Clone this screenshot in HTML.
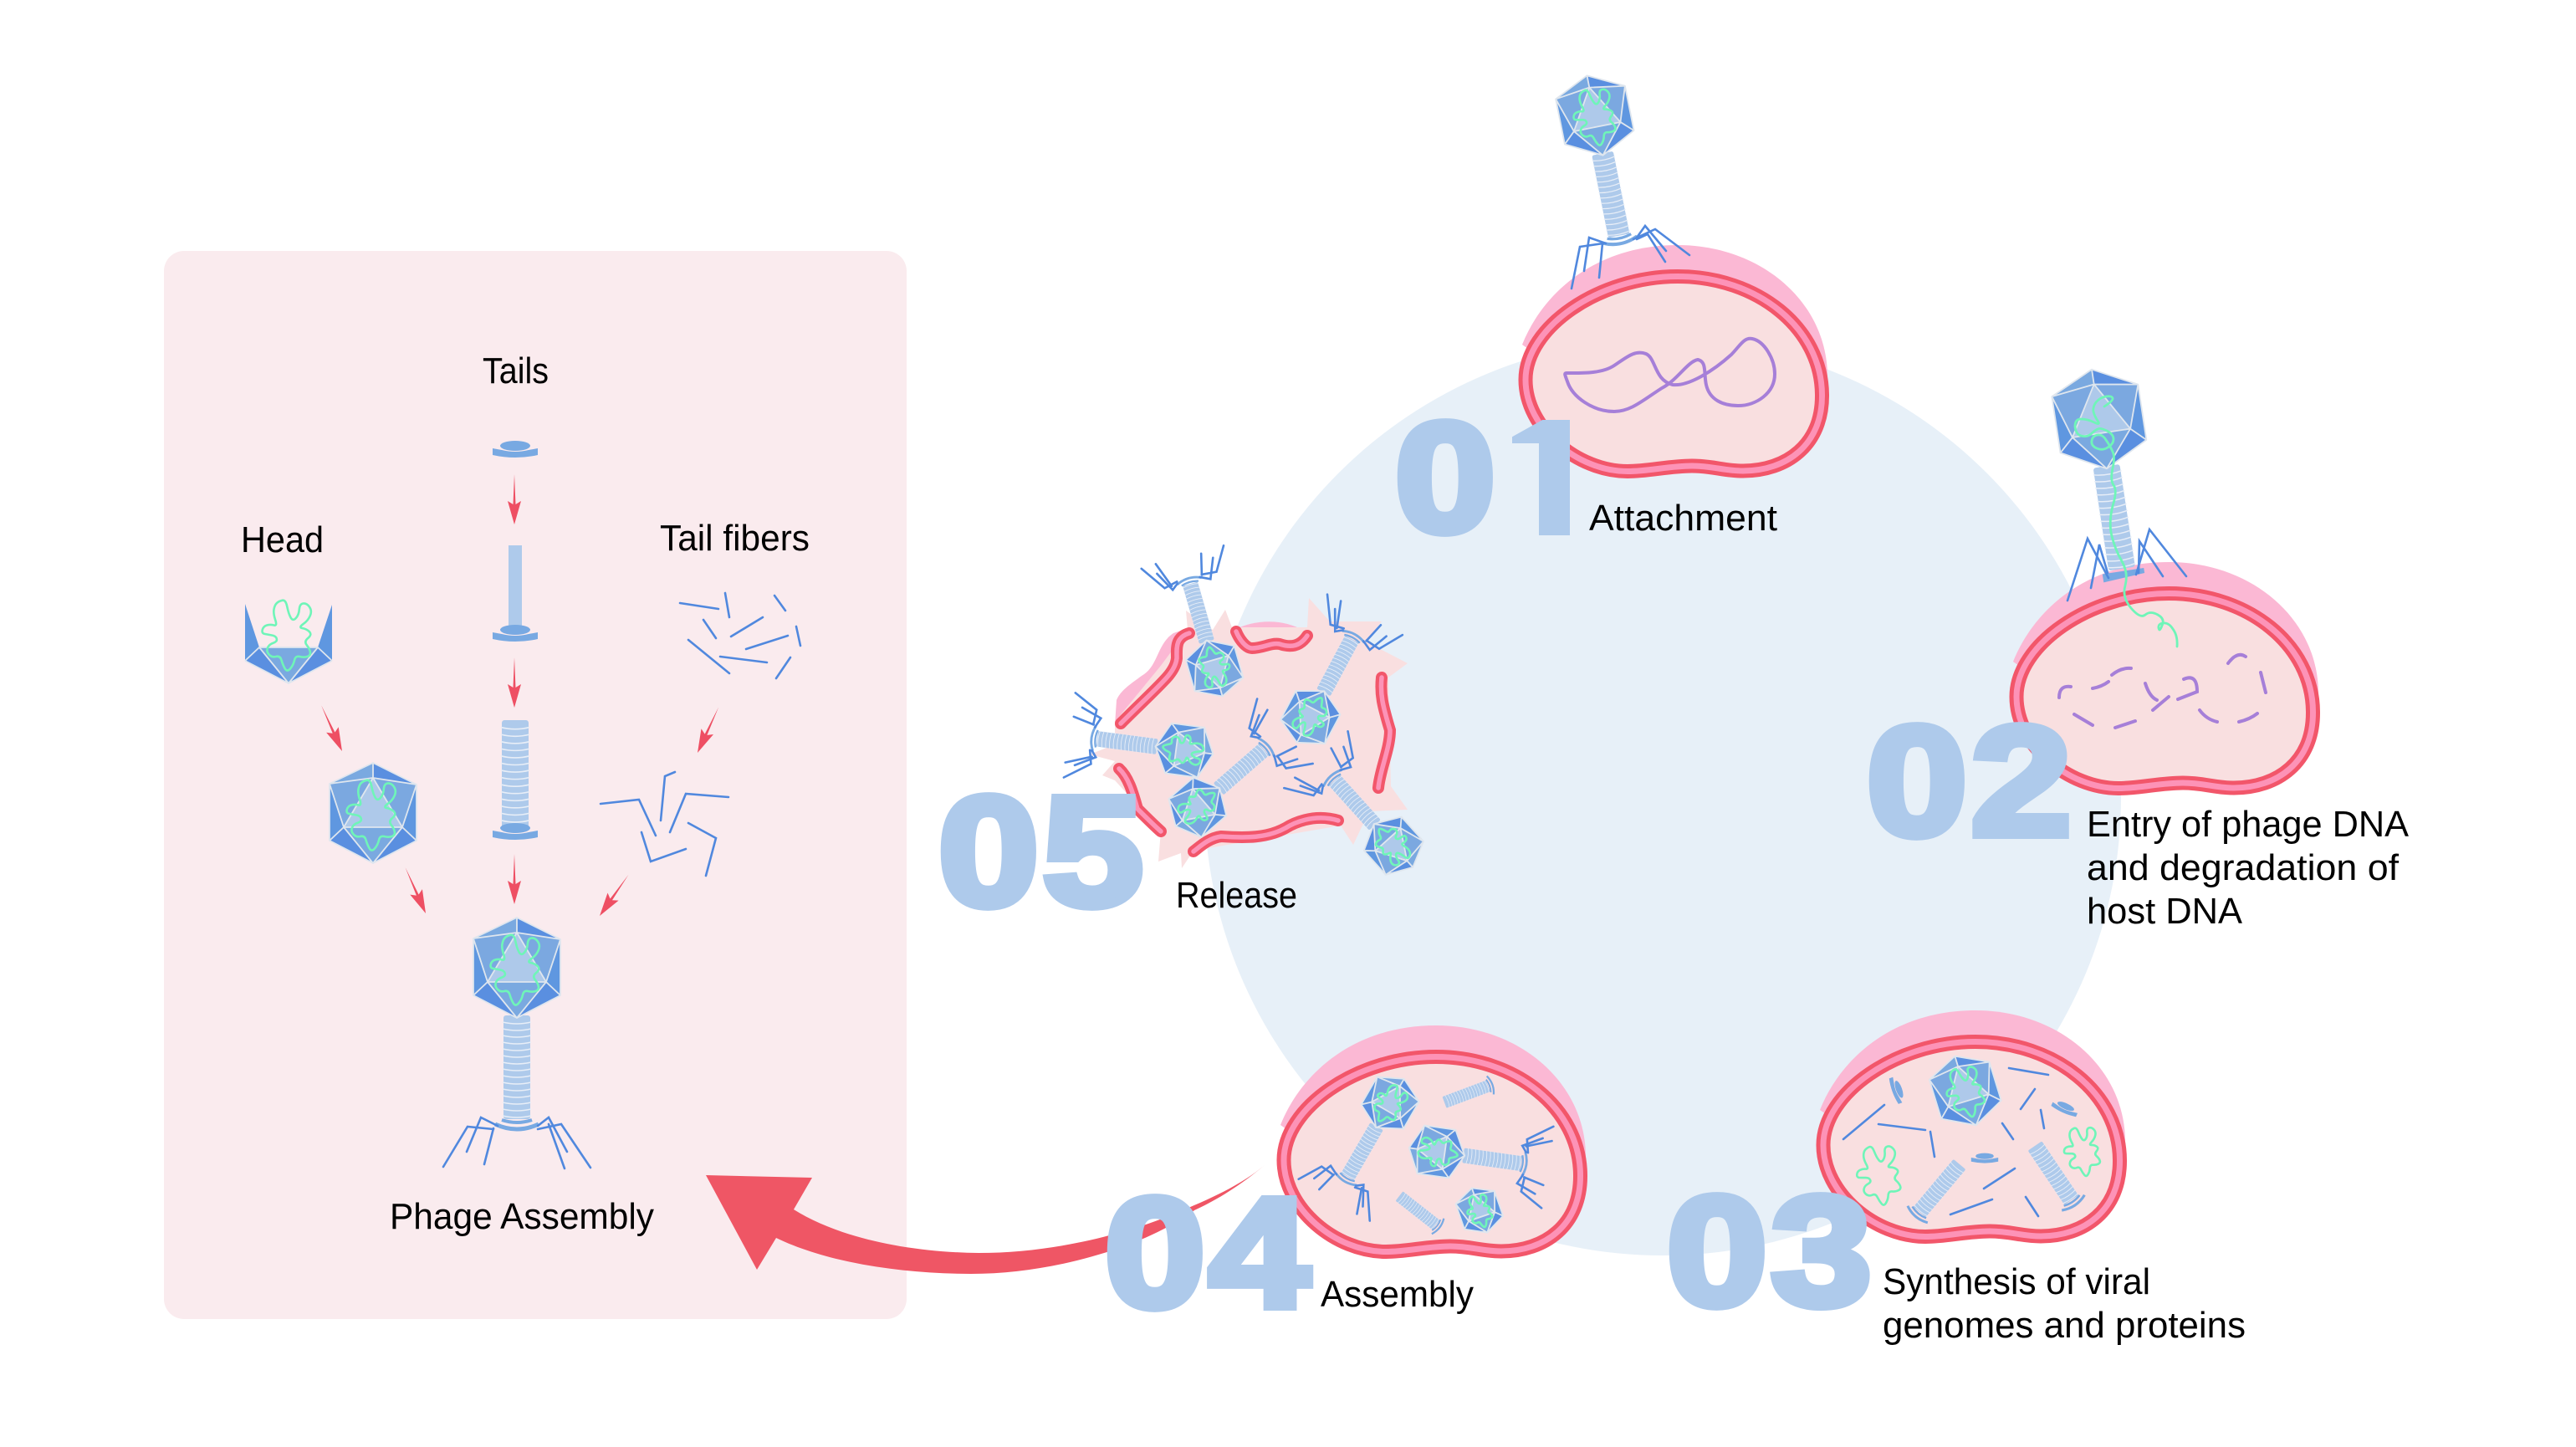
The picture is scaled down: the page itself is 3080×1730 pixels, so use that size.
<!DOCTYPE html>
<html lang="en">
<head>
<meta charset="utf-8">
<title>Phage lifecycle</title>
<style>
html,body{margin:0;padding:0;background:#fff;width:3080px;height:1730px;overflow:hidden}
svg{display:block}
.t{font-family:"Liberation Sans",sans-serif;font-size:44px;fill:#000}
.n{font-family:"Liberation Sans",sans-serif;font-weight:700;font-size:186px;fill:#aecaeb;stroke:#aecaeb;stroke-width:10px;letter-spacing:4px}
.f{fill:none;stroke:#5088de;stroke-width:2.6;stroke-linecap:round;stroke-linejoin:miter;vector-effect:non-scaling-stroke}
.d{fill:none;stroke:#6ff5b8;stroke-width:2.6;vector-effect:non-scaling-stroke}
.h{fill:none;stroke:#dfe6ee;stroke-width:1.8;stroke-linejoin:round;vector-effect:non-scaling-stroke}
</style>
</head>
<body>
<svg xmlns="http://www.w3.org/2000/svg" width="3080" height="1730" viewBox="0 0 3080 1730">
<defs>
  <clipPath id="one"><path d="M1808,480 H1877 V645 H1840 V530 H1808Z"/></clipPath>
  <g id="cell">
    <path d="M4,90 C30,25 95,-29 190,-29 C290,-29 370,40 369,130 L300,130 L60,130Z" fill="#fbb8d4"/>
    <path d="M8,132 C8,70 95,8.5 190,8.5 C285,8.5 362,70 362.5,150 C363,210 320,241 268,241 C245,241 232,235 207,235 C180,235 155,241.5 130,241.5 C70,241.5 8,190 8,132Z" fill="#f9dfe0" stroke="#f2566a" stroke-width="17"/>
    <path d="M8,132 C8,70 95,8.5 190,8.5 C285,8.5 362,70 362.5,150 C363,210 320,241 268,241 C245,241 232,235 207,235 C180,235 155,241.5 130,241.5 C70,241.5 8,190 8,132Z" fill="none" stroke="#fd93b7" stroke-width="7"/>
  </g>
  <g id="head">
    <polygon points="0,-60 -52,-35 0,-42" fill="#7aa9e0"/>
    <polygon points="0,-60 52,-34 0,-42" fill="#5a8fe0"/>
    <polygon points="-52,-35 0,-42 -35,17" fill="#7ba8e0"/>
    <polygon points="52,-34 0,-42 35,17" fill="#7ba8e0"/>
    <polygon points="0,-42 -35,17 35,17" fill="#aec9ea"/>
    <polygon points="-52,-35 -35,17 -52,33" fill="#5f97e0"/>
    <polygon points="52,-34 35,17 52,33" fill="#5f97e0"/>
    <polygon points="-52,33 -35,17 0,60" fill="#5a8fe0"/>
    <polygon points="52,33 35,17 0,60" fill="#5a8fe0"/>
    <polygon points="-35,17 35,17 0,60" fill="#7aa9e0"/>
    <path class="h" d="M0,-60 L52,-34 L52,33 L0,60 L-52,33 L-52,-35Z M0,-60 L0,-42 M-52,-35 L0,-42 L52,-34 M-52,-35 L-35,17 L-52,33 M52,-34 L35,17 L52,33 M0,-42 L-35,17 L35,17Z M-35,17 L0,60 L35,17"/>
  </g>
  <path id="dna" class="d" d="M-14.2,-35.8 Q-11.7,-38.3 -7.5,-39.2 Q-3.3,-40 -1.7,-31.7 Q0,-23.3 2.5,-18.7 Q5,-14 8.7,-17.9 Q12.3,-21.7 12.8,-28.4 Q13.3,-35 17.5,-35.5 Q21.7,-36 25,-31.4 Q28.3,-26.7 25.8,-20.9 Q23.3,-15 17.5,-10.9 Q11.7,-6.7 16.7,-5.9 Q21.7,-5 25,-1.7 Q28.3,1.7 23.3,5.9 Q18.3,10 21.7,14.2 Q25,18.3 25.9,22.5 Q26.7,26.7 22.5,28 Q18.3,29.3 13.3,28 Q8.3,26.7 7,32.5 Q5.7,38.3 2,42.5 Q-1.7,46.7 -4.2,42.5 Q-6.7,38.3 -8.4,32.5 Q-10,26.7 -15,28 Q-20,29.3 -23.4,25.5 Q-26.7,21.7 -25,17.5 Q-23.3,13.3 -18.3,11.7 Q-13.3,10 -14.2,6.7 Q-15,3.3 -20,2.5 Q-25,1.7 -28.7,0.9 Q-32.3,0 -31.2,-4.2 Q-30,-8.3 -25.9,-9.5 Q-21.7,-10.7 -17.5,-9.5 Q-13.3,-8.3 -15.8,-15.8 Q-18.3,-23.3 -17.5,-28.3 Q-16.7,-33.3 -14.2,-35.8Z"/>
  <g id="tail">
    <rect x="-16" y="0" width="32" height="124" rx="3" fill="#aecaeb"/>
    <path fill="none" stroke="#e8eef7" stroke-width="1.5" d="M-17,8 q17,4 34,0 M-17,16 q17,4 34,0 M-17,24 q17,4 34,0 M-17,32 q17,4 34,0 M-17,40 q17,4 34,0 M-17,48 q17,4 34,0 M-17,56 q17,4 34,0 M-17,64 q17,4 34,0 M-17,72 q17,4 34,0 M-17,80 q17,4 34,0 M-17,88 q17,4 34,0 M-17,96 q17,4 34,0 M-17,104 q17,4 34,0 M-17,112 q17,4 34,0 M-17,120 q17,4 34,0"/>
  </g>
  <g id="tailplate">
    <use href="#tail"/>
    <path d="M-18,125 Q0,131 18,125" fill="none" stroke="#78a9e2" stroke-width="4"/>
    <path d="M-26,130 Q0,142 26,130" fill="none" stroke="#78a9e2" stroke-width="5"/>
  </g>
  <g id="legs">
    <polyline class="f" points="-23,132 -43,122 -60,163"/>
    <polyline class="f" points="-28,136 -59,133 -88,181"/>
    <polyline class="f" points="-28,135 -39,178"/>
    <polyline class="f" points="25,132 38,122 60,163"/>
    <polyline class="f" points="25,136 53,130 88,182"/>
    <polyline class="f" points="38,130 57,183"/>
  </g>
  <g id="phage">
    <g transform="translate(0,57)"><use href="#tailplate"/><use href="#legs"/></g>
    <use href="#head"/><use href="#dna"/>
  </g>
  <g id="capsid"><use href="#head"/><use href="#dna"/></g>
  <g id="plate">
    <ellipse cx="0" cy="-8" rx="18" ry="6" fill="#78a9e2"/>
    <path d="M-27,-5 Q-16,-3 -16,-3 Q0,1 16,-3 L27,-5 L27,3 Q0,9 -27,3Z" fill="#78a9e2"/>
  </g>
  <path id="arr" d="M0,-60 L1.5,-24 L8,-28 L0,0 L-8,-28 L-1.5,-24Z" fill="#ee4f63"/>
</defs>

<rect width="3080" height="1730" fill="#fff"/>
<circle cx="1988" cy="953" r="548" fill="#e7f0f8"/>
<rect x="196" y="300" width="888" height="1277" rx="24" fill="#faebee"/>

<!-- Big arrow -->
<path d="M844,1405 L971,1408 L949,1446 C1000,1478 1080,1497 1170,1498 C1250,1498 1330,1480 1395,1455 C1440,1436 1480,1420 1512,1393 C1480,1420 1450,1437 1428,1447 C1370,1490 1260,1523 1161,1523 C1080,1523 990,1510 928,1480 L905,1518Z" fill="#ef5665"/>

<!-- Cells -->
<use href="#cell" x="1816" y="322"/>
<use href="#cell" x="2403" y="701"/>
<use href="#cell" x="2172" y="1237"/>
<use href="#cell" x="1527" y="1255"/>

<!-- Cell 1 -->
<path d="M1873,446 C1890,446 1915,447 1930,437 C1945,427 1955,418 1968,423 C1980,428 1978,455 2000,460 C2020,462 2050,442 2070,424 C2080,414 2085,403 2095,405 C2110,408 2122,430 2122,447 C2122,470 2100,485 2078,485 C2060,485 2044,478 2040,460 C2037,447 2041,432 2030,430 C2018,432 2005,455 1987,464 C1965,478 1950,492 1930,492 C1905,492 1880,475 1874,456 C1871,448 1870,446 1873,446Z" fill="none" stroke="#a67fd8" stroke-width="4"/>
<g transform="translate(1907,138) rotate(-11.3) scale(.81)">
  <g transform="translate(0,57)"><use href="#tailplate"/></g>
  <use href="#capsid"/>
</g>
<polyline class="f" points="1879,345 1889,295 1917,291"/>
<polyline class="f" points="1894,324 1900,284 1920,291"/>
<polyline class="f" points="1912,332 1916,291"/>
<polyline class="f" points="1991,313 1970,280 1957,286"/>
<polyline class="f" points="1992,300 1967,270 1957,284"/>
<polyline class="f" points="2020,305 1979,274 1953,286"/>

<!-- Cell 2 -->
<g fill="none" stroke="#a67fd8" stroke-width="4" stroke-linecap="round">
  <path d="M2476,821 Q2462,819 2462,834"/>
  <path d="M2502,823 Q2513,821 2521,815"/>
  <path d="M2525,807 Q2536,798 2548,799"/>
  <path d="M2565,817 Q2570,833 2579,837"/>
  <path d="M2574,849 L2593,833"/>
  <path d="M2611,812 Q2627,805 2627,827 L2604,836"/>
  <path d="M2664,793 Q2675,778 2685,785"/>
  <path d="M2703,804 L2709,828"/>
  <path d="M2699,853 Q2690,860 2677,863"/>
  <path d="M2651,863 Q2638,860 2630,849"/>
  <path d="M2553,862 L2529,870"/>
  <path d="M2502,867 L2480,854"/>
</g>
<g transform="translate(2510,501) rotate(-8.6)">
  <g transform="translate(0,57)"><use href="#tail"/><path d="M-24,127 L26,127 L26,133 L-24,137Z" fill="#78a9e2"/></g>
  <use href="#head"/>
</g>
<polyline class="f" points="2521,691 2496,644 2472,718"/>
<polyline class="f" points="2520,685 2510,651 2500,703"/>
<polyline class="f" points="2554,687 2570,633 2614,689"/>
<polyline class="f" points="2557,685 2558,647 2586,689"/>
<path fill="none" stroke="#6ff5b8" stroke-width="2.8" stroke-linecap="round" d="M2516,486 Q2527,479 2526,476 Q2525,473 2518,474 Q2511,475 2506,481 Q2502,487 2503,492 Q2504,497 2508,503 Q2512,509 2504,505 Q2496,501 2488,501 Q2481,501 2481,510 Q2482,519 2488,521 Q2495,523 2500,519 Q2504,515 2508,513 Q2511,511 2519,515 Q2527,519 2527,525 Q2527,531 2520,535 Q2514,539 2507,536 Q2500,533 2501,527 Q2502,521 2508,520 Q2514,519 2518,526 Q2523,533 2526,540 Q2529,546 2526,560 Q2523,574 2527,580 Q2532,586 2526,605 Q2521,625 2525,641 Q2529,657 2537,671 Q2545,685 2541,700 Q2537,714 2548,727 Q2559,740 2565,735 Q2571,730 2580,735 Q2589,740 2585,748 Q2582,756 2581,751 Q2580,746 2586,745 Q2593,744 2598,752 Q2604,760 2603,773"/>

<!-- Cell 3 -->
<path class="f" d="M2402,1277L2449,1285 M2433,1302L2416,1326 M2440,1327L2444,1349 M2394,1343L2407,1362 M2253,1321L2204,1362 M2246,1344L2302,1351 M2308,1353L2313,1383 M2409,1397L2372,1421 M2382,1434L2332,1452 M2422,1431L2437,1454"/>
<use href="#capsid" transform="translate(2350,1304) rotate(-17) scale(.72)"/>
<use href="#plate" transform="translate(2266,1304) rotate(70) scale(.6)"/>
<use href="#plate" transform="translate(2468,1327) rotate(24) scale(.6)"/>
<use href="#plate" transform="translate(2373,1387) scale(.6)"/>
<use href="#tailplate" transform="translate(2343,1392) rotate(40) scale(.6)"/>
<use href="#tailplate" transform="translate(2433,1370) rotate(-34) scale(.63)"/>
<use href="#dna" transform="translate(2247,1403) rotate(-10) scale(.85)"/>
<use href="#dna" transform="translate(2490,1375) rotate(-10) scale(.7)"/>

<!-- Cell 4 -->
<use href="#phage" transform="translate(1662,1319) rotate(30) scale(.56)"/>
<use href="#phage" transform="translate(1718,1377) rotate(-82) scale(.56)"/>
<use href="#capsid" transform="translate(1769,1447) rotate(-19) scale(.47)"/>
<use href="#tailplate" transform="translate(1727,1318) rotate(-110.5) scale(.45)"/>
<use href="#tailplate" transform="translate(1673,1430) rotate(-52) scale(.45)"/>

<!-- Cell 5 -->
<path d="M1333,867 L1335,837 C1340,825 1353,817 1365,808 C1385,797 1383,770 1403,757 L1423,750 L1440,780 L1350,880Z" fill="#fbb8d4"/>
<path d="M1478,752 C1500,741 1537,738 1563,757 L1550,780 L1490,780Z" fill="#fbb8d4"/>
<polygon points="1465,729 1473,750 1563,750 1565,715 1590,743 1652,743 1633,767 1683,793 1660,810 1663,940 1683,968 1637,970 1618,1010 1603,987 1427,1017 1413,1038 1412,1020 1385,1030 1388,993 1333,933 1318,927 1333,910 1303,902 1333,890 1333,863 1387,797 1420,753 1418,730 1450,753" fill="#f9dfe0"/>
<g fill="none" stroke-linecap="round">
  <g stroke="#f2566a" stroke-width="14">
    <path d="M1422,757 C1405,762 1407,775 1407,787 C1405,805 1390,815 1340,865"/>
    <path d="M1478,755 C1482,765 1490,775 1497,775 C1510,775 1520,768 1530,770 C1545,775 1555,772 1563,760"/>
    <path d="M1652,810 C1650,830 1653,843 1662,873 C1662,895 1650,920 1648,942" />
    <path d="M1600,981 C1570,972 1545,985 1537,990 C1515,1002 1490,1002 1460,1000 C1445,1002 1435,1012 1427,1018"/>
    <path d="M1338,919 C1350,930 1355,950 1360,967 C1368,975 1380,987 1388,994"/>
  </g>
  <g stroke="#fd93b7" stroke-width="5.5">
    <path d="M1422,757 C1405,762 1407,775 1407,787 C1405,805 1390,815 1340,865"/>
    <path d="M1478,755 C1482,765 1490,775 1497,775 C1510,775 1520,768 1530,770 C1545,775 1555,772 1563,760"/>
    <path d="M1652,810 C1650,830 1653,843 1662,873 C1662,895 1650,920 1648,942" />
    <path d="M1600,981 C1570,972 1545,985 1537,990 C1515,1002 1490,1002 1460,1000 C1445,1002 1435,1012 1427,1018"/>
    <path d="M1338,919 C1350,930 1355,950 1360,967 C1368,975 1380,987 1388,994"/>
  </g>
</g>
<use href="#phage" transform="translate(1452,799) rotate(164) scale(.58)"/>
<use href="#phage" transform="translate(1416,897) rotate(97.5) scale(.58)"/>
<use href="#phage" transform="translate(1432,965) rotate(-131) scale(.58)"/>
<use href="#phage" transform="translate(1567,857) rotate(-152) scale(.58)"/>
<use href="#phage" transform="translate(1666,1011) rotate(138) scale(.58)"/>

<!-- Panel contents -->
<use href="#plate" transform="translate(616,541)"/>
<use href="#arr" transform="translate(615,627)"/>
<rect x="608" y="652" width="16" height="101" fill="#aecaeb"/>
<use href="#plate" transform="translate(616,761)"/>
<use href="#arr" transform="translate(615,846)"/>
<use href="#tail" transform="translate(616,861) scale(1,1.07)"/>
<use href="#plate" transform="translate(616,998)"/>
<use href="#arr" transform="translate(615,1081)"/>
<use href="#arr" transform="translate(409,898) rotate(-24.4)"/>
<use href="#arr" transform="translate(509,1092) rotate(-24)"/>
<use href="#arr" transform="translate(834,900) rotate(24.8)"/>
<use href="#arr" transform="translate(717,1095) rotate(35)"/>

<g transform="translate(345,757)">
  <polygon points="-52,-35 -35,17 -52,33" fill="#5f97e0"/>
  <polygon points="52,-34 35,17 52,33" fill="#5f97e0"/>
  <polygon points="-52,33 -35,17 0,60" fill="#5a8fe0"/>
  <polygon points="52,33 35,17 0,60" fill="#5a8fe0"/>
  <polygon points="-35,17 35,17 0,60" fill="#7aa9e0"/>
  <path class="h" d="M-52,33 L-35,17 L0,60 L35,17 L52,33 M-52,33 L0,60 L52,33 M-35,17 L35,17"/>
  <use href="#dna"/>
</g>
<use href="#capsid" transform="translate(446,972)"/>
<use href="#phage" transform="translate(618,1157)"/>

<path class="f" d="M813,721L859,728 M867,709L872,738 M926,712L939,730 M841,741L856,763 M874,761L912,738 M952,749L957,772 M892,776L942,760 M823,765L872,805 M861,785L917,792 M945,786L928,811"/>
<polyline class="f" points="718,961 764,956 784,999"/>
<polyline class="f" points="807,923 795,928 790,981"/>
<polyline class="f" points="871,953 820,949 801,995"/>
<polyline class="f" points="823,984 856,1002 844,1047"/>
<polyline class="f" points="820,1015 778,1030 767,995"/>

<!-- Labels -->
<text class="t" x="577" y="458" textLength="79" lengthAdjust="spacingAndGlyphs">Tails</text>
<text class="t" x="288" y="660" textLength="99" lengthAdjust="spacingAndGlyphs">Head</text>
<text class="t" x="789" y="658" textLength="179" lengthAdjust="spacingAndGlyphs">Tail fibers</text>
<text class="t" x="466" y="1469" textLength="316" lengthAdjust="spacingAndGlyphs">Phage Assembly</text>
<text class="t" x="1900" y="634" textLength="225" lengthAdjust="spacingAndGlyphs">Attachment</text>
<text class="t" x="2495" y="1000" textLength="385" lengthAdjust="spacingAndGlyphs">Entry of phage DNA</text>
<text class="t" x="2495" y="1052" textLength="373" lengthAdjust="spacingAndGlyphs">and degradation of</text>
<text class="t" x="2495" y="1104" textLength="186" lengthAdjust="spacingAndGlyphs">host DNA</text>
<text class="t" x="2251" y="1547" textLength="320" lengthAdjust="spacingAndGlyphs">Synthesis of viral</text>
<text class="t" x="2251" y="1599" textLength="434" lengthAdjust="spacingAndGlyphs">genomes and proteins</text>
<text class="t" x="1579" y="1562" textLength="183" lengthAdjust="spacingAndGlyphs">Assembly</text>
<text class="t" x="1406" y="1085" textLength="145" lengthAdjust="spacingAndGlyphs">Release</text>

<!-- Numbers -->
<text class="n" transform="translate(1668,635) scale(1.16,1)">0</text>
<g clip-path="url(#one)"><text class="n" transform="translate(1794,635) scale(1.16,1)">1</text></g>
<text class="n" transform="translate(2232,998) scale(1.16,1)">02</text>
<text class="n" transform="translate(1993,1560) scale(1.16,1)">03</text>
<text class="n" transform="translate(1321,1562) scale(1.16,1)">04</text>
<text class="n" transform="translate(1122,1082) scale(1.16,1)">05</text>
</svg>
</body>
</html>
